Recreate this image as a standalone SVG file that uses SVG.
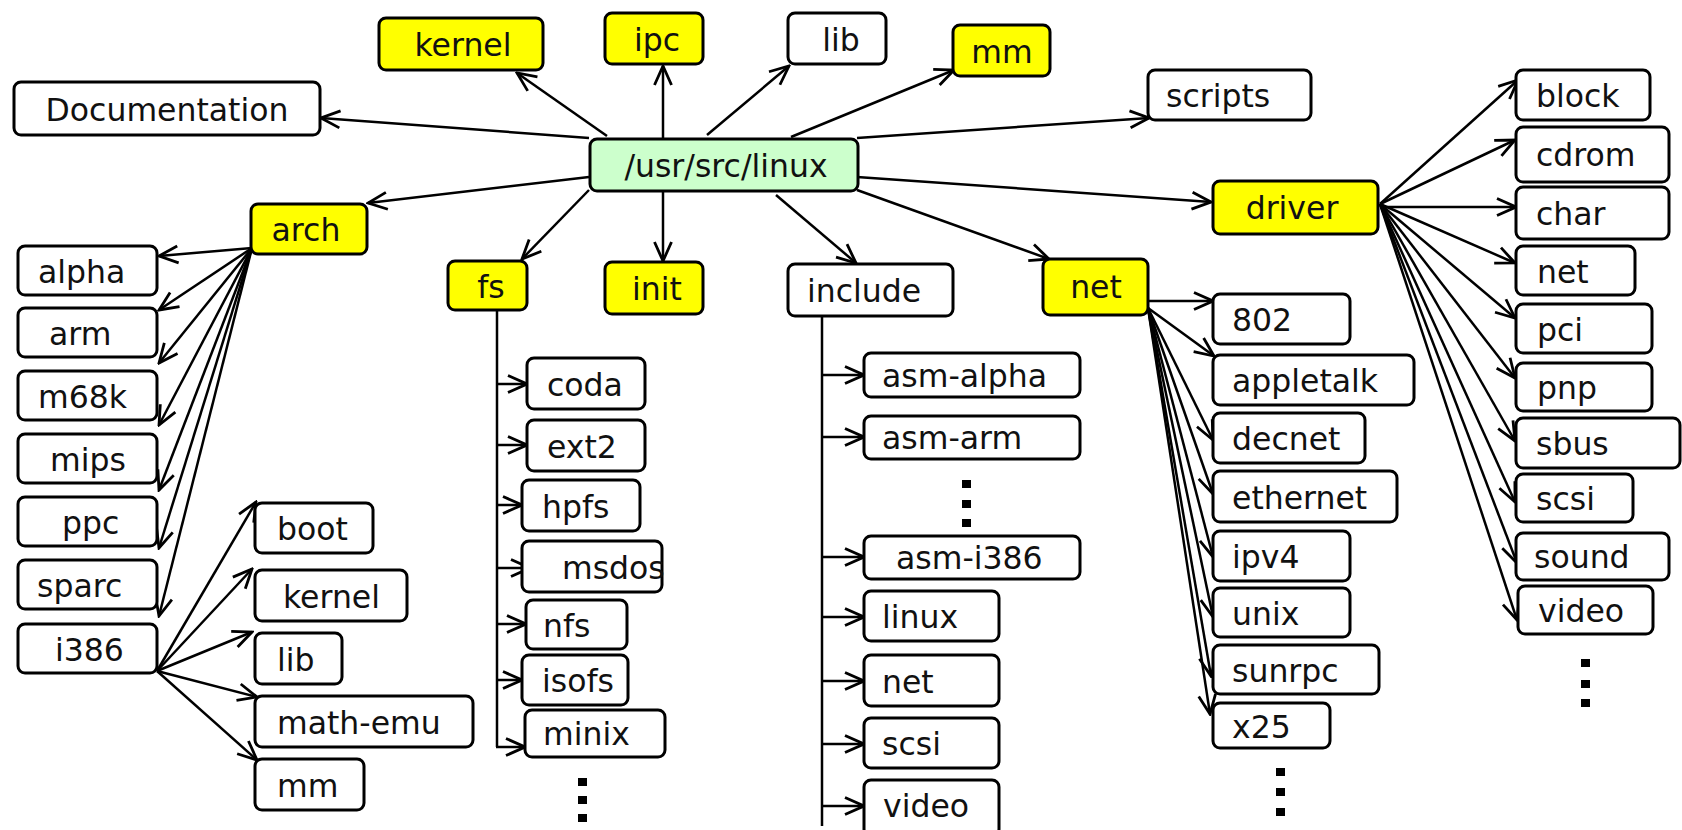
<svg xmlns="http://www.w3.org/2000/svg" width="1682" height="830" viewBox="0 0 1682 830">
<style>
.b{stroke:#000;stroke-width:3;fill:#fff}
.y{fill:#ffff00}
.g{fill:#ccffcc}
text{font-family:"DejaVu Sans",Verdana,sans-serif;font-size:31.5px;fill:#111}
.m{text-anchor:middle}
.c{stroke:#000;stroke-width:2.5;fill:none;marker-end:url(#a)}
.d{fill:#000}
</style>
<defs>
<marker id="a" viewBox="-22 -11 24 22" markerWidth="24" markerHeight="22" refX="0" refY="0" orient="auto" markerUnits="userSpaceOnUse">
<path d="M-19,-8.5 L0,0 L-19,8.5" fill="none" stroke="#000" stroke-width="2.8"/>
</marker>
</defs>
<g id="connectors">
<path class="c" d="M589,138 L321,118"/>
<path class="c" d="M607,136 L517,73"/>
<path class="c" d="M663,138 L663,66"/>
<path class="c" d="M707,135 L789,66"/>
<path class="c" d="M791,137 L954,70"/>
<path class="c" d="M857,138 L1149,118"/>
<path class="c" d="M589,177 L368,203"/>
<path class="c" d="M589,190 L522,259"/>
<path class="c" d="M663,192 L663,261"/>
<path class="c" d="M776,195 L856,263"/>
<path class="c" d="M857,190 L1049,259"/>
<path class="c" d="M857,177 L1211,202"/>
<path class="c" d="M252,248 L159,256"/>
<path class="c" d="M252,248 L159,310"/>
<path class="c" d="M252,248 L159,363"/>
<path class="c" d="M252,248 L159,425"/>
<path class="c" d="M252,248 L159,490"/>
<path class="c" d="M252,248 L159,548"/>
<path class="c" d="M252,248 L159,616"/>
<path class="c" d="M157,671 L256,502"/>
<path class="c" d="M157,671 L252,569"/>
<path class="c" d="M157,671 L252,632"/>
<path class="c" d="M157,671 L257,697"/>
<path class="c" d="M157,671 L257,760"/>
<path d="M497,310 L497,747" stroke="#000" stroke-width="2.5" fill="none"/>
<path class="c" d="M497,384 L527,384"/>
<path class="c" d="M497,445 L527,445"/>
<path class="c" d="M497,505 L522,505"/>
<path class="c" d="M497,568 L530,568"/>
<path class="c" d="M497,624 L526,624"/>
<path class="c" d="M497,680 L522,680"/>
<path class="c" d="M496,747 L525,747"/>
<path d="M822,316 L822,826" stroke="#000" stroke-width="2.5" fill="none"/>
<path class="c" d="M822,375 L864,375"/>
<path class="c" d="M822,437 L864,437"/>
<path class="c" d="M822,557 L864,557"/>
<path class="c" d="M822,617 L864,617"/>
<path class="c" d="M822,681 L864,681"/>
<path class="c" d="M822,744 L864,744"/>
<path class="c" d="M822,806 L864,806"/>
<path class="c" d="M1148,301 L1213,301"/>
<path class="c" d="M1148,308 L1214,356"/>
<path class="c" d="M1148,308 L1213,440"/>
<path class="c" d="M1148,308 L1213,494"/>
<path class="c" d="M1148,308 L1213,557"/>
<path class="c" d="M1148,308 L1213,617"/>
<path class="c" d="M1148,308 L1211,676"/>
<path class="c" d="M1148,308 L1210,714"/>
<path class="c" d="M1380,204 L1518,80"/>
<path class="c" d="M1380,204 L1515,140"/>
<path class="c" d="M1380,207 L1516,207"/>
<path class="c" d="M1380,204 L1515,263"/>
<path class="c" d="M1380,204 L1515,318"/>
<path class="c" d="M1380,204 L1515,378"/>
<path class="c" d="M1380,204 L1515,441"/>
<path class="c" d="M1380,204 L1515,502"/>
<path class="c" d="M1380,204 L1517,563"/>
<path class="c" d="M1380,204 L1517,620"/>
</g>
<g id="root"><rect class="b g" x="590" y="139" width="268" height="52" rx="7"/><text class="m" x="726" y="177">/usr/src/linux</text></g>
<g id="kernel"><rect class="b y" x="379" y="18" width="164" height="52" rx="7"/><text class="m" x="463" y="56">kernel</text></g>
<g id="ipc"><rect class="b y" x="605" y="13" width="98" height="51" rx="7"/><text class="m" x="657" y="51">ipc</text></g>
<g id="lib"><rect class="b" x="788" y="13" width="98" height="51" rx="7"/><text class="m" x="841" y="51">lib</text></g>
<g id="mm"><rect class="b y" x="953" y="25" width="97" height="51" rx="7"/><text class="m" x="1002" y="63">mm</text></g>
<g id="documentation"><rect class="b" x="14" y="82" width="306" height="53" rx="7"/><text class="m" x="167" y="121">Documentation</text></g>
<g id="scripts"><rect class="b" x="1148" y="70" width="163" height="50" rx="7"/><text x="1166" y="107">scripts</text></g>
<g id="arch"><rect class="b y" x="251" y="204" width="116" height="50" rx="7"/><text class="m" x="306" y="241">arch</text></g>
<g id="fs"><rect class="b y" x="448" y="261" width="79" height="49" rx="7"/><text class="m" x="491" y="298">fs</text></g>
<g id="init"><rect class="b y" x="605" y="262" width="98" height="52" rx="7"/><text class="m" x="657" y="300">init</text></g>
<g id="include"><rect class="b" x="788" y="264" width="165" height="52" rx="7"/><text x="807" y="302">include</text></g>
<g id="net"><rect class="b y" x="1043" y="259" width="105" height="56" rx="7"/><text class="m" x="1096" y="298">net</text></g>
<g id="driver"><rect class="b y" x="1213" y="181" width="165" height="53" rx="7"/><text class="m" x="1292" y="219">driver</text></g>
<g id="arch-alpha"><rect class="b" x="18" y="246" width="139" height="49" rx="7"/><text x="38" y="283">alpha</text></g>
<g id="arch-arm"><rect class="b" x="18" y="308" width="139" height="49" rx="7"/><text x="49" y="345">arm</text></g>
<g id="arch-m68k"><rect class="b" x="18" y="371" width="139" height="49" rx="7"/><text x="38" y="408">m68k</text></g>
<g id="arch-mips"><rect class="b" x="18" y="434" width="139" height="49" rx="7"/><text x="50" y="471">mips</text></g>
<g id="arch-ppc"><rect class="b" x="18" y="497" width="139" height="49" rx="7"/><text x="62" y="534">ppc</text></g>
<g id="arch-sparc"><rect class="b" x="18" y="560" width="139" height="49" rx="7"/><text x="37" y="597">sparc</text></g>
<g id="arch-i386"><rect class="b" x="18" y="624" width="139" height="49" rx="7"/><text x="55" y="661">i386</text></g>
<g id="i386-boot"><rect class="b" x="255" y="503" width="118" height="50" rx="7"/><text x="277" y="540">boot</text></g>
<g id="i386-kernel"><rect class="b" x="255" y="570" width="152" height="51" rx="7"/><text x="283" y="608">kernel</text></g>
<g id="i386-lib"><rect class="b" x="255" y="633" width="87" height="51" rx="7"/><text x="277" y="671">lib</text></g>
<g id="i386-math-emu"><rect class="b" x="255" y="696" width="218" height="51" rx="7"/><text x="277" y="734">math-emu</text></g>
<g id="i386-mm"><rect class="b" x="255" y="759" width="109" height="51" rx="7"/><text x="277" y="797">mm</text></g>
<g id="fs-coda"><rect class="b" x="527" y="358" width="118" height="51" rx="7"/><text x="547" y="396">coda</text></g>
<g id="fs-ext2"><rect class="b" x="527" y="420" width="118" height="51" rx="7"/><text x="547" y="458">ext2</text></g>
<g id="fs-hpfs"><rect class="b" x="522" y="480" width="118" height="51" rx="7"/><text x="542" y="518">hpfs</text></g>
<g id="fs-msdos"><rect class="b" x="522" y="541" width="140" height="51" rx="7"/><text x="562" y="579">msdos</text></g>
<g id="fs-nfs"><rect class="b" x="526" y="600" width="101" height="49" rx="7"/><text x="543" y="637">nfs</text></g>
<g id="fs-isofs"><rect class="b" x="522" y="655" width="106" height="50" rx="7"/><text x="542" y="692">isofs</text></g>
<g id="fs-minix"><rect class="b" x="525" y="710" width="140" height="47" rx="7"/><text x="543" y="745">minix</text></g>
<g id="fs-more"><rect class="d" x="578" y="778" width="9" height="8"/><rect class="d" x="578" y="796" width="9" height="8"/><rect class="d" x="578" y="814" width="9" height="8"/></g>
<g id="inc-asm-alpha"><rect class="b" x="864" y="353" width="216" height="44" rx="7"/><text x="882" y="387">asm-alpha</text></g>
<g id="inc-asm-arm"><rect class="b" x="864" y="416" width="216" height="43" rx="7"/><text x="882" y="449">asm-arm</text></g>
<g id="inc-more"><rect class="d" x="962" y="480" width="9" height="8"/><rect class="d" x="962" y="500" width="9" height="8"/><rect class="d" x="962" y="519" width="9" height="8"/></g>
<g id="inc-asm-i386"><rect class="b" x="864" y="536" width="216" height="43" rx="7"/><text x="896" y="569">asm-i386</text></g>
<g id="inc-linux"><rect class="b" x="864" y="591" width="135" height="50" rx="7"/><text x="882" y="628">linux</text></g>
<g id="inc-net"><rect class="b" x="864" y="655" width="135" height="51" rx="7"/><text x="882" y="693">net</text></g>
<g id="inc-scsi"><rect class="b" x="864" y="718" width="135" height="50" rx="7"/><text x="882" y="755">scsi</text></g>
<g id="inc-video"><rect class="b" x="864" y="780" width="135" height="56" rx="7"/><text x="883" y="817">video</text></g>
<g id="net-802"><rect class="b" x="1213" y="294" width="137" height="50" rx="7"/><text x="1232" y="331">802</text></g>
<g id="net-appletalk"><rect class="b" x="1213" y="355" width="201" height="50" rx="7"/><text x="1232" y="392">appletalk</text></g>
<g id="net-decnet"><rect class="b" x="1213" y="413" width="152" height="50" rx="7"/><text x="1232" y="450">decnet</text></g>
<g id="net-ethernet"><rect class="b" x="1213" y="471" width="184" height="51" rx="7"/><text x="1232" y="509">ethernet</text></g>
<g id="net-ipv4"><rect class="b" x="1213" y="531" width="137" height="50" rx="7"/><text x="1232" y="568">ipv4</text></g>
<g id="net-unix"><rect class="b" x="1213" y="588" width="137" height="49" rx="7"/><text x="1232" y="625">unix</text></g>
<g id="net-sunrpc"><rect class="b" x="1213" y="645" width="166" height="49" rx="7"/><text x="1232" y="682">sunrpc</text></g>
<g id="net-x25"><rect class="b" x="1213" y="703" width="117" height="45" rx="7"/><text x="1232" y="738">x25</text></g>
<g id="net-more"><rect class="d" x="1276" y="768" width="9" height="8"/><rect class="d" x="1276" y="788" width="9" height="8"/><rect class="d" x="1276" y="808" width="9" height="8"/></g>
<g id="drv-block"><rect class="b" x="1516" y="70" width="134" height="50" rx="7"/><text x="1536" y="107">block</text></g>
<g id="drv-cdrom"><rect class="b" x="1516" y="127" width="153" height="55" rx="7"/><text x="1536" y="166">cdrom</text></g>
<g id="drv-char"><rect class="b" x="1516" y="187" width="153" height="52" rx="7"/><text x="1536" y="225">char</text></g>
<g id="drv-net"><rect class="b" x="1516" y="246" width="119" height="49" rx="7"/><text x="1537" y="283">net</text></g>
<g id="drv-pci"><rect class="b" x="1516" y="304" width="136" height="49" rx="7"/><text x="1537" y="341">pci</text></g>
<g id="drv-pnp"><rect class="b" x="1516" y="363" width="136" height="48" rx="7"/><text x="1537" y="399">pnp</text></g>
<g id="drv-sbus"><rect class="b" x="1516" y="418" width="164" height="50" rx="7"/><text x="1536" y="455">sbus</text></g>
<g id="drv-scsi"><rect class="b" x="1516" y="474" width="117" height="48" rx="7"/><text x="1536" y="510">scsi</text></g>
<g id="drv-sound"><rect class="b" x="1516" y="533" width="153" height="47" rx="7"/><text x="1534" y="568">sound</text></g>
<g id="drv-video"><rect class="b" x="1518" y="586" width="135" height="48" rx="7"/><text x="1538" y="622">video</text></g>
<g id="drv-more"><rect class="d" x="1581" y="659" width="9" height="8"/><rect class="d" x="1581" y="680" width="9" height="8"/><rect class="d" x="1581" y="699" width="9" height="8"/></g>
</svg>
